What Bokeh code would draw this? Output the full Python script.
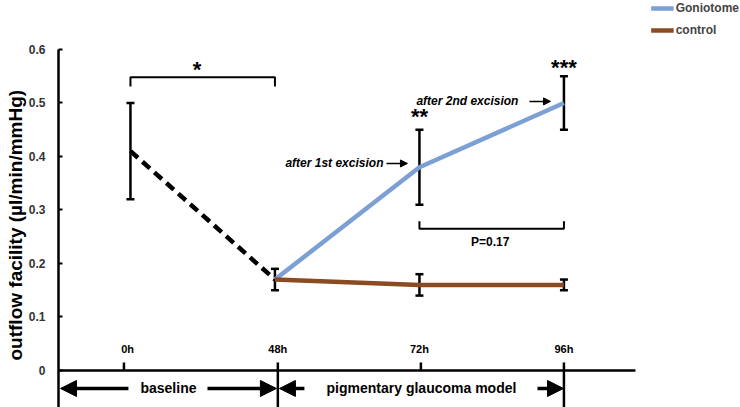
import math
from bokeh.plotting import figure
from bokeh.models import (ColumnDataSource, Whisker, TeeHead, Arrow, NormalHead,
                          FixedTicker, Legend, LegendItem, Title)
from bokeh.core.properties import value
from bokeh.embed import file_html
from bokeh.resources import INLINE

# ---------------- data ----------------
time_labels = ["0h", "48h", "72h", "96h"]
time_tick_x = [-0.045, 1.02, 2.01, 3.0]

baseline_x = [0, 1]
baseline_mean = [0.41, 0.17]
baseline_lower = [0.32, 0.15]
baseline_upper = [0.50, 0.19]

gonio_x = [1, 2, 3]
gonio_mean = [0.17, 0.38, 0.50]
gonio_lower = [0.15, 0.31, 0.45]
gonio_upper = [0.19, 0.45, 0.55]

control_x = [1, 2, 3]
control_mean = [0.17, 0.16, 0.16]
control_lower = [0.15, 0.14, 0.15]
control_upper = [0.19, 0.18, 0.17]

y_ticks = [0, 0.1, 0.2, 0.3, 0.4, 0.5, 0.6]
y_tick_labels = ["0", "0.1", "0.2", "0.3", "0.4", "0.5", "0.6"]
y_title = "outflow facility (µl/min/mmHg)"

FONT = "Liberation Sans"
BLUE = "#7C9FD4"
BROWN = "#8A4B22"

Y0, Y1 = -0.0692, 0.6916
X0, X1 = -0.498, 4.222

p = figure(width=740, height=407, x_range=(X0, X1), y_range=(Y0, Y1),
           output_backend="svg", toolbar_location=None, x_axis_location=None,
           min_border_left=58, min_border_right=0, min_border_top=0, min_border_bottom=0)
p.grid.visible = False
p.outline_line_color = None
p.background_fill_color = "white"

yax = p.yaxis[0]
yax.ticker = FixedTicker(ticks=y_ticks, minor_ticks=[])
yax.major_label_overrides = {t: s for t, s in zip(y_ticks, y_tick_labels)}
yax.bounds = (Y0, 0.6)
yax.axis_line_width = 2.5
yax.axis_line_color = "black"
yax.major_tick_in = 4
yax.major_tick_out = 0
yax.major_tick_line_width = 2
yax.major_tick_line_color = "black"
yax.minor_tick_line_color = None
yax.major_label_standoff = 13
yax.major_label_text_font = FONT
yax.major_label_text_font_style = "bold"
yax.major_label_text_font_size = "12px"
yax.major_label_text_color = "#333333"

# y axis title as a side title, so that it can sit lower than the frame centre
p.add_layout(Title(text=y_title, align="left", offset=47, standoff=0,
                   text_font=FONT, text_font_style="bold", text_font_size="19px",
                   text_color="black"), "left")

# x axis line and ticks
p.segment(x0=[X0], y0=[0], x1=[3.495], y1=[0], line_color="black", line_width=2.5)
p.segment(x0=[time_tick_x[0], time_tick_x[2]], y0=[0.015, 0.015],
          x1=[time_tick_x[0], time_tick_x[2]], y1=[0, 0], line_color="black", line_width=2.5)
p.segment(x0=[time_tick_x[1], time_tick_x[3]], y0=[0.015, 0.015],
          x1=[time_tick_x[1], time_tick_x[3]], y1=[Y0, Y0], line_color="black", line_width=2.5)
p.text(x=[-0.02, 1.02, 2.0, 3.0], y=[0.041] * 4, text=time_labels, text_align="center",
       text_baseline="middle", text_font=value(FONT), text_font_style="bold",
       text_font_size="11px", text_color="black")

# series
p.line(baseline_x, baseline_mean, line_color="black", line_width=4.5, line_dash="10 6")
r_g = p.line(gonio_x, gonio_mean, line_color=BLUE, line_width=4.5)
r_c = p.line(control_x, control_mean, line_color=BROWN, line_width=4.5)

for xs, lo, hi in [(baseline_x[:1], baseline_lower[:1], baseline_upper[:1]),
                   (gonio_x, gonio_lower, gonio_upper),
                   (control_x[1:], control_lower[1:], control_upper[1:])]:
    src = ColumnDataSource(dict(base=xs, lower=lo, upper=hi))
    w = Whisker(base="base", lower="lower", upper="upper", source=src, dimension="height",
                line_color="black", line_width=2.5,
                upper_head=TeeHead(size=8, line_width=2.5, line_color="black"),
                lower_head=TeeHead(size=8, line_width=2.5, line_color="black"))
    p.add_layout(w)

# significance brackets
p.multi_line(xs=[[0, 0, 1, 1], [2, 2, 3, 3]],
             ys=[[0.531, 0.548, 0.548, 0.531], [0.279, 0.265, 0.265, 0.279]],
             line_color="black", line_width=2)
p.text(x=[0.46, 2.0, 3.0], y=[0.563, 0.475, 0.567], text=["*", "**", "***"],
       text_align="center", text_baseline="alphabetic", text_font=value(FONT),
       text_font_style="bold", text_font_size="22px", text_color="black")
p.text(x=[2.49], y=[0.241], text=["P=0.17"], text_align="center", text_baseline="middle",
       text_font=value(FONT), text_font_style="bold", text_font_size="12px", text_color="black")

# excision notes
p.text(x=[1.751, 2.685], y=[0.387, 0.503], text=["after 1st excision", "after 2nd excision"],
       text_align="right", text_baseline="middle", text_font=value(FONT),
       text_font_style="bold italic", text_font_size="12px", text_color="black")
for xs_, xe_, yy in [(1.772, 1.917, 0.387), (2.761, 2.907, 0.503)]:
    p.add_layout(Arrow(x_start=xs_, y_start=yy, x_end=xe_, y_end=yy, line_width=1.5,
                       line_color="black",
                       end=NormalHead(size=7, fill_color="black", line_color="black")))

# bottom phase arrows
ya = -0.0336
for xs_, xe_ in [(-0.014, -0.484), (0.533, 1.01), (1.204, 1.031), (2.817, 2.997)]:
    p.add_layout(Arrow(x_start=xs_, y_start=ya, x_end=xe_, y_end=ya, line_width=3.5,
                       line_color="black",
                       end=NormalHead(size=16, fill_color="black", line_color="black",
                                      line_width=1)))
p.text(x=[0.263, 2.014], y=[ya, ya], text=["baseline", "pigmentary glaucoma model"],
       text_align="center", text_baseline="middle", text_font=value(FONT),
       text_font_style="bold", text_font_size="14px", text_color="black")

# legend
legend = Legend(items=[LegendItem(label="Goniotome", renderers=[r_g]),
                       LegendItem(label="control", renderers=[r_c])],
                location="top_right", border_line_color=None, background_fill_alpha=0,
                label_text_font=FONT, label_text_font_style="bold", label_text_font_size="12px",
                glyph_width=23, glyph_height=12, label_height=12, label_standoff=2,
                spacing=8, padding=0, margin=1)
p.add_layout(legend)

open("out.html", "w").write(file_html(p, INLINE))
